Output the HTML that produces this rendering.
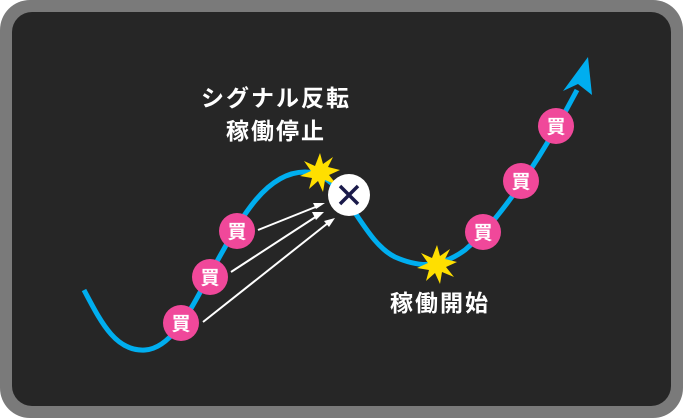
<!DOCTYPE html>
<html><head><meta charset="utf-8"><style>
html,body{margin:0;padding:0;background:#fff;}
svg{display:block;}
text{font-family:"Liberation Sans","Noto Sans CJK JP",sans-serif;font-weight:bold;}
</style></head><body>
<svg width="683" height="418" viewBox="0 0 683 418" xmlns="http://www.w3.org/2000/svg">
<rect x="0" y="0" width="683" height="418" rx="30" fill="#7a7a7a"/>
<rect x="12" y="12" width="659" height="394" rx="20" fill="#262626"/>
<path d="M84,290 C100,320 115,352 145,350 C175,348 195,300 215,265 C240,220 265,172 305,172 C345,172 360,240 395,257 C420,268 440,268 465,250 C500,220 540,160 577,90" fill="none" stroke="#00aeef" stroke-width="5"/>
<polygon points="588,57 592,95 578,84 563,91" fill="#00aeef"/>
<g stroke="#fff" stroke-width="2" fill="#fff">
<line x1="258" y1="230" x2="318" y2="206"/>
<line x1="231" y1="272" x2="317" y2="216"/>
<line x1="203" y1="322" x2="328" y2="223"/>
</g>
<g fill="#fff">
<polygon points="325,203 313,203 316,209"/>
<polygon points="324,212 312,212 316,220"/>
<polygon points="335,218 324,221 329,227"/>
</g>
<g fill="#ffdf00">
<polygon points="320,153 323,164 333,157 328,167 340,170 329,175 337,185 325,180 323,192 318,181 309,189 312,178 300,176 311,171 304,161 315,166"/>
<polygon points="437,245 440,256 450,249 445,259 457,262 446,267 454,277 442,272 440,284 435,273 426,281 429,270 417,268 428,263 421,253 432,258"/>
</g>
<circle cx="349" cy="195" r="21" fill="#fff"/>
<path d="M340,186 L358,204 M358,186 L340,204" stroke="#1a1a4a" stroke-width="3.5"/>
<g fill="#f0489a">
<circle cx="181" cy="323" r="18"/><circle cx="210" cy="277" r="18"/><circle cx="237" cy="231" r="18"/>
<circle cx="483" cy="232" r="18"/><circle cx="521" cy="181" r="18"/><circle cx="556" cy="126" r="18"/>
</g>
<g fill="#fff" font-size="19" text-anchor="middle">
<text x="181" y="330">買</text><text x="210" y="284">買</text><text x="237" y="238">買</text>
<text x="483" y="239">買</text><text x="521" y="188">買</text><text x="556" y="133">買</text>
</g>
<g fill="#fff" font-size="23" text-anchor="middle" letter-spacing="2">
<text x="276" y="106">シグナル反転</text>
<text x="276" y="139">稼働停止</text>
<text x="440" y="311">稼働開始</text>
</g>
</svg>
</body></html>
